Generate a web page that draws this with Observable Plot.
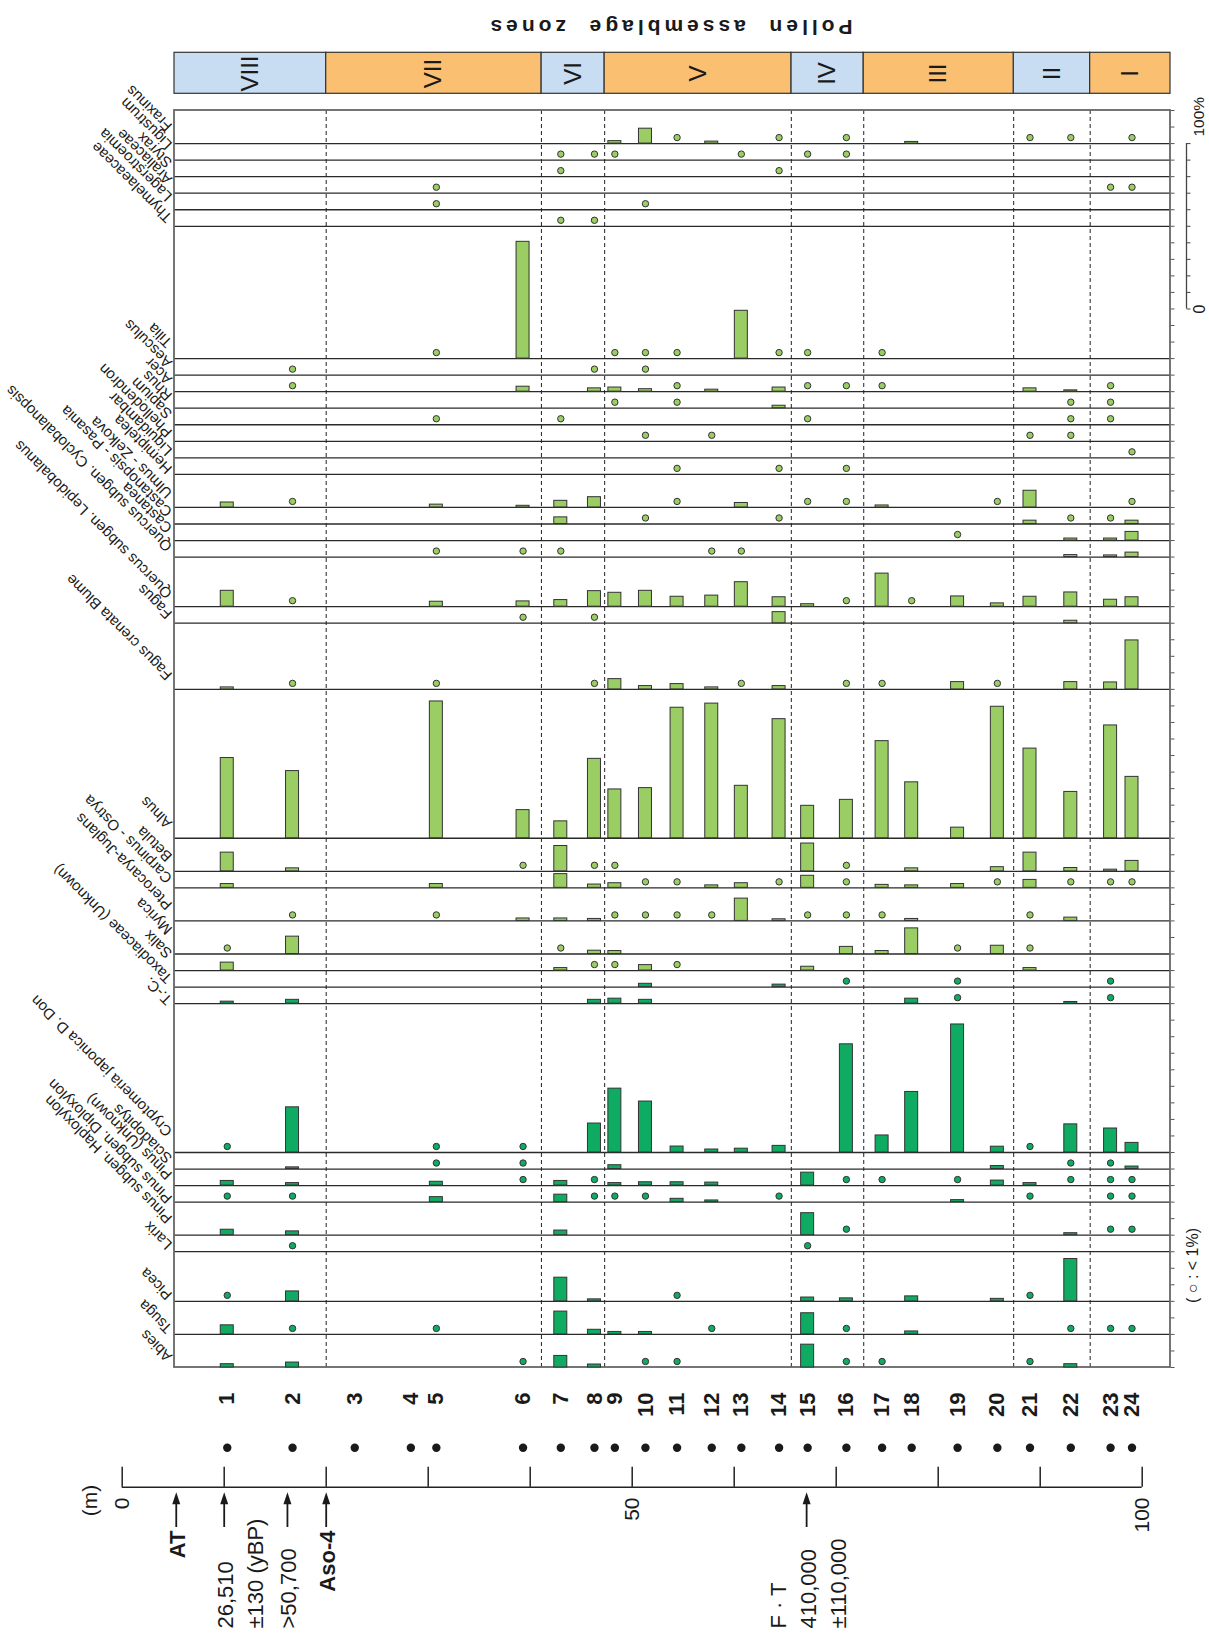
<!DOCTYPE html>
<html>
<head>
<meta charset="utf-8">
<script src="https://cdn.jsdelivr.net/npm/d3@7"></script>
<script src="https://cdn.jsdelivr.net/npm/@observablehq/plot@0.6"></script>
<style>
  html, body { margin: 0; padding: 0; background: #ffffff; }
  #chart svg { display: block; overflow: visible; }
</style>
</head>
<body>
<div id="chart"></div>
<script>
const _ = null, o = "+";   // "+" = present, < 1 %

// ---------- samples ----------
const sampleNumbers = [1,2,3,4,5,6,7,8,9,10,11,12,13,14,15,16,17,18,19,20,21,22,23,24];
const sampleDepths = [10.3, 16.7, 22.8, 28.3, 30.8, 39.3, 43.0, 46.3, 48.3, 51.3, 54.4, 57.8,
                      60.7, 64.4, 67.2, 71.0, 74.5, 77.4, 81.9, 85.8, 89.0, 93.0, 96.9, 99.0];

// ---------- pollen assemblage zones ----------
const zoneNames = ["VIII", "VII", "VI", "V", "IV", "III", "II", "I"];
const zoneBoundaries = [20.0, 41.1, 47.3, 65.6, 72.7, 87.4, 94.9];
const zoneTints = ["blue", "orange", "blue", "orange", "blue", "orange", "blue", "orange"];

// ---------- taxa (listed from the bottom row of the drawing upwards) ----------
const taxaNames = ["Abies", "Tsuga", "Picea", "Larix", "Pinus subgen. Haploxylon", "Pinus subgen. Diploxylon",
  "Pinus (Unknown)", "Sciadopitys", "Cryptomeria japonica D. Don", "T.-C.", "Taxodiaceae (Unknown)",
  "Salix", "Myrica", "Pterocarya-Juglans", "Carpinus - Ostrya", "Betula", "Alnus", "Fagus crenata Blume",
  "Fagus", "Quercus subgen. Lepidobalanus", "Quercus subgen. Cyclobalanopsis", "Castanea",
  "Castanopsis - Pasania", "Ulmus - Zelkova", "Hemiptelea", "Liquidambar", "Phellodendron", "Sapium",
  "Rhus", "Acer", "Aesculus", "Tilia", "Thymelaeaceae", "Lagerstroemia", "Araliaceae", "Styrax",
  "Ligustrum", "Fraxinus"];
// scale width of each taxon column (%)
const panelWidths = [20, 20, 30, 10, 20, 10, 10, 10, 90, 10, 10, 10, 20, 20, 10, 20, 90,
  40, 10, 30, 10, 10, 10, 20, 10, 10, 10, 10, 10, 10, 10, 80,
  10, 10, 10, 10, 10, 20];
const coniferCount = 11; // first 11 taxa drawn in dark green

// percentages for samples 1..24
const Abies        = [2, 3, _, _, _, o, 7, 1.8, _, o, o, _, _, _, 13.8, o, o, _, _, _, o, 2, _, _];
const Tsuga        = [5.5, o, _, _, o, _, 13.8, 2.8, 1.5, 1.5, _, o, _, _, 12.8, o, _, 1.8, _, _, _, o, o, o];
const Picea        = [o, 6, _, _, _, _, 14.3, 1.2, _, _, o, _, _, _, 2.3, 1.8, _, 3, _, 1.5, o, 25.6, _, _];
const Larix        = [_, o, _, _, _, _, _, _, _, _, _, _, _, _, o, _, _, _, _, _, _, _, _, _];
const Haploxylon   = [3.3, 2.3, _, _, _, _, 2.8, _, _, _, _, _, _, _, 13.3, o, _, _, _, _, _, 1.2, o, o];
const Diploxylon   = [o, o, _, _, 3, _, 4.5, o, o, o, 2, 1, _, o, _, _, _, _, 1.2, _, o, _, o, o];
const PinusUnknown = [2.8, 1.5, _, _, 2.3, o, 2.8, o, 1.5, 2, 2, 1.8, _, _, 7.8, o, o, _, o, 3, 1.5, o, o, o];
const Sciadopitys  = [_, 1, _, _, o, o, _, _, 2.3, _, _, _, _, _, _, _, _, _, _, 1.8, _, o, o, 1.5];
const Cryptomeria  = [o, 27.3, _, _, o, o, _, 17.5, 38.6, 30.8, 3.6, 1.8, 2.3, 4, _, 65.4, 10.3, 36.6, 77.4, 3.5, o, 17, 14.5, 5.8];
const TC           = [1.2, 2.3, _, _, _, _, _, 2.3, 3, 2.3, _, _, _, _, _, _, _, 3, o, _, _, 1, o, _];
const Taxodiaceae  = [_, _, _, _, _, _, _, _, _, 2, _, _, _, 1.5, _, o, _, _, o, _, _, _, o, _];
const Salix        = [4.8, _, _, _, _, _, 1.5, o, o, 3.3, o, _, _, _, 2.3, _, _, _, _, _, 1.5, _, _, _];
const Myrica       = [o, 10.5, _, _, _, _, o, 2, 1.8, _, _, _, _, _, _, 4.3, 1.8, 15.5, o, 5, o, _, _, _];
const Pterocarya   = [_, o, _, _, o, 1.5, 1.5, 1.2, o, o, o, o, 13.5, 1, o, o, o, 1.2, _, _, o, 2, _, _];
const Carpinus     = [2.3, _, _, _, 2.3, _, 8.3, 2, 2.8, o, o, 1.5, 2.8, o, 7.3, o, 1.8, 1.5, 2.3, o, 4.8, o, o, o];
const Betula       = [11.3, 1.8, _, _, _, o, 15.3, o, o, _, _, _, _, _, 16.8, o, _, 1.8, _, 2.5, 11.3, 2, 1, 6.3];
const Alnus        = [48.5, 40.6, _, _, 82.7, 17, 10.2, 48, 29.5, 30.3, 78.9, 81.4, 31.7, 72, 19.6, 23.2, 58.7, 33.8, 6.4, 79.5, 54.2, 28, 68.2, 37.1];
const FagusCrenata = [1.2, o, _, _, o, _, _, o, 6.2, 2, 3.2, 1.2, o, 2, _, o, o, _, 4.4, o, _, 4.4, 4.2, 29.6];
const Fagus        = [_, _, _, _, _, o, _, o, _, _, _, _, _, 6.7, _, _, _, _, _, _, _, 1.5, _, _];
const QLepido      = [9.6, o, _, _, 3, 3.2, 4, 9.4, 8.4, 9.6, 6, 6.7, 14.8, 5.7, 1.5, o, 20, o, 6.2, 2, 6, 8.6, 4.2, 5.7];
const QCyclo       = [_, _, _, _, o, o, o, _, _, _, _, o, o, _, _, _, _, _, _, _, _, 1.2, 1, 2.7];
const Castanea     = [_, _, _, _, _, _, _, _, _, _, _, _, _, _, _, _, _, _, o, _, _, 1.2, 1.2, 5.2];
const Castanopsis  = [_, _, _, _, _, _, 4, _, _, o, _, _, _, o, _, _, _, _, _, _, 2, o, o, 2];
const Ulmus        = [3, o, _, _, 1.7, 1, 4, 6.2, _, _, o, _, 2.7, _, o, o, 1.2, _, _, o, 10.1, _, _, o];
const Hemiptelea   = [_, _, _, _, _, _, _, _, _, _, o, _, _, o, _, o, _, _, _, _, _, _, _, _];
const Liquidambar  = [_, _, _, _, _, _, _, _, _, _, _, _, _, _, _, _, _, _, _, _, _, _, _, o];
const Phellodendron= [_, _, _, _, _, _, _, _, _, o, _, o, _, _, _, _, _, _, _, _, o, o, _, _];
const Sapium       = [_, _, _, _, o, _, o, _, _, _, _, _, _, _, o, _, _, _, _, _, _, o, o, _];
const Rhus         = [_, _, _, _, _, _, _, _, o, _, o, _, _, 1.5, _, _, _, _, _, _, _, o, o, _];
const Acer         = [_, o, _, _, _, 3, _, 2, 2.5, 1.5, o, 1.2, _, 2.5, o, o, o, _, _, _, 2, 0.8, o, _];
const Aesculus     = [_, o, _, _, _, _, _, o, _, o, _, _, _, _, _, _, _, _, _, _, _, _, _, _];
const Tilia        = [_, _, _, _, o, 70.6, _, _, o, o, o, _, 28.9, o, o, _, o, _, _, _, _, _, _, _];
const Thymelaeaceae= [_, _, _, _, _, _, o, o, _, _, _, _, _, _, _, _, _, _, _, _, _, _, _, _];
const Lagerstroemia= [_, _, _, _, o, _, _, _, _, o, _, _, _, _, _, _, _, _, _, _, _, _, _, _];
const Araliaceae   = [_, _, _, _, o, _, _, _, _, _, _, _, _, _, _, _, _, _, _, _, _, _, o, o];
const Styrax       = [_, _, _, _, _, _, o, _, _, _, _, _, _, o, _, _, _, _, _, _, _, _, _, _];
const Ligustrum    = [_, _, _, _, _, _, o, o, o, _, _, _, o, _, o, o, _, _, _, _, _, _, _, _];
const Fraxinus     = [_, _, _, _, _, _, _, _, 1.5, 9, o, 1.2, _, o, _, o, _, 1, _, _, o, o, _, o];

const taxaValues = [Abies, Tsuga, Picea, Larix, Haploxylon, Diploxylon, PinusUnknown, Sciadopitys,
  Cryptomeria, TC, Taxodiaceae, Salix, Myrica, Pterocarya, Carpinus, Betula, Alnus, FagusCrenata,
  Fagus, QLepido, QCyclo, Castanea, Castanopsis, Ulmus, Hemiptelea, Liquidambar,
  Phellodendron, Sapium, Rhus, Acer, Aesculus, Tilia, Thymelaeaceae, Lagerstroemia, Araliaceae,
  Styrax, Ligustrum, Fraxinus];

// ---------- depth axis and datings ----------
const depthTicks = [0, 10, 20, 30, 40, 50, 60, 70, 80, 90, 100];
const depthTickLabels = [0, 50, 100];
const datumDepths = [5.3, 10.0, 16.2, 20.0, 67.1];
const datumLines = [["AT"], ["26,510", "±130 (yBP)"], [">50,700"], ["Aso-4"], ["F · T", "410,000", "±110,000"]];
const datumFirstLine = [0, 0, 0, 0, -1];
const datumBold = [true, false, false, true, false];
const percentScaleTicks = [0, 10, 20, 30, 40, 50, 60, 70, 80, 90, 100];

// ---------- layout & styles ----------
const W = 1209, H = 1637;
const FONT = "'Liberation Sans', Arial, Helvetica, sans-serif";
const LIGHT = "#9acd63", DARK = "#10ab62", BLUE = "#c8ddf1", ORANGE = "#fbbf72", INK = "#1a1a1a";
const FRAME_TOP_PX = 110, FRAME_BOTTOM_PX = 1367, LEFT_PX = 174, RIGHT_PX = 1170;
const X0_PX = 121.7, PX_PER_M = 10.2;
// vertical nudge (px, + = down) of each taxon name relative to its column base, same order as taxaNames
const labelNudgePx = [-2.5, 2.3, 1.7, 1.3, -8.5, 4.6, -2.6, -2.3, -12.5, 4.4, -0.4, -8.8, -16, -7.9,
  -1.2, -6.3, -6.5, -5.9, -1, -4.9, -2.2, -4, -3.8, -5.7, 2.7, 1.2, -0.7, -2.7, -4.3, -4, -4.1,
  -7.8, -0.3, -5, -5.6, -5.6, -7.2, -9.1];
const TOTAL = d3.sum(panelWidths);
const PX_PER_PCT = (FRAME_BOTTOM_PX - FRAME_TOP_PX) / TOTAL;
const yAt = px => (FRAME_BOTTOM_PX - px) / PX_PER_PCT;
const xAt = px => (px - X0_PX) / PX_PER_M;
const X_LEFT = xAt(LEFT_PX), X_RIGHT = xAt(RIGHT_PX);
const M_PER_PX = 1 / PX_PER_M;

// ---------- derived tables ----------
let acc = 0;
const panels = taxaNames.map((name, i) => {
  const p = {name, index: i, base: acc, width: panelWidths[i], dark: i < coniferCount, values: taxaValues[i]};
  acc += panelWidths[i];
  return p;
});
const records = panels.flatMap(p => p.values
  .map((v, j) => ({panel: p, depth: sampleDepths[j], value: v}))
  .filter(r => r.value !== null));
const bars = records.filter(r => typeof r.value === "number");
const traces = records.filter(r => r.value === o);
const separators = panels.filter(p => p.index > 0).map(p => p.base);
const rightTicks = d3.range(0, TOTAL + 1, 10);
const zoneLimits = [X_LEFT, ...zoneBoundaries, X_RIGHT];
const zones = zoneNames.map((name, i) => ({name, x1: zoneLimits[i], x2: zoneLimits[i + 1], tint: zoneTints[i]}));
const samples = sampleNumbers.map((n, i) => ({n, depth: sampleDepths[i]}));
const datumText = datumDepths.flatMap((d, i) => datumLines[i].map((t, k) => ({
  text: t, bold: datumBold[i],
  x: d + (2 + 30 * (k + datumFirstLine[i])) * M_PER_PX
})));
const fraxinusBase = panels[panels.length - 1].base;
const pctBarBase = fraxinusBase - 100;
const arrowHead = {draw(ctx) { ctx.moveTo(0, 0); ctx.lineTo(4, 12); ctx.lineTo(-4, 12); ctx.closePath(); }};

const chart = Plot.plot({
  width: W, height: H,
  marginLeft: X0_PX, marginRight: W - RIGHT_PX, marginTop: FRAME_TOP_PX, marginBottom: H - FRAME_BOTTOM_PX,
  x: {domain: [0, X_RIGHT], axis: null},
  y: {domain: [0, TOTAL], axis: null},
  style: {fontFamily: FONT, background: "#ffffff", overflow: "visible"},
  marks: [
    // title
    Plot.text(["Pollen  assemblage  zones"], {x: xAt(669), y: yAt(26), text: d => d, rotate: 180,
      fontSize: 21, fontWeight: "bold", fill: INK}),
    // zone band
    Plot.rect(zones.filter(z => z.tint === "blue"), {x1: "x1", x2: "x2", y1: yAt(93.3), y2: yAt(52.3), fill: BLUE, stroke: "#333", strokeWidth: 1.2}),
    Plot.rect(zones.filter(z => z.tint === "orange"), {x1: "x1", x2: "x2", y1: yAt(93.3), y2: yAt(52.3), fill: ORANGE, stroke: "#333", strokeWidth: 1.2}),
    Plot.text(zones, {x: z => (z.x1 + z.x2) / 2, y: yAt(73), text: "name", rotate: -90, fontSize: 24, fill: INK}),
    // panel separators & zone dashes
    Plot.ruleY(separators, {x1: X_LEFT, x2: X_RIGHT, stroke: "#2a2a2a", strokeWidth: 1.3}),
    Plot.ruleX(zoneBoundaries, {y1: 0, y2: TOTAL, stroke: "#222", strokeWidth: 1, strokeDasharray: "4,3"}),
    Plot.link(rightTicks, {x1: X_RIGHT, x2: X_RIGHT + 4 * M_PER_PX, y1: d => d, y2: d => d, stroke: "#555", strokeWidth: 1}),
    Plot.rect([0], {x1: X_LEFT, x2: X_RIGHT, y1: 0, y2: TOTAL, fill: "none", stroke: "#666", strokeWidth: 1.8}),
    // bars
    Plot.rect(bars.filter(d => !d.panel.dark), {x1: "depth", x2: "depth", y1: d => d.panel.base, y2: d => d.panel.base + d.value,
      insetLeft: -6.5, insetRight: -6.5, fill: LIGHT, stroke: "#333", strokeWidth: 1}),
    Plot.rect(bars.filter(d => d.panel.dark), {x1: "depth", x2: "depth", y1: d => d.panel.base, y2: d => d.panel.base + d.value,
      insetLeft: -6.5, insetRight: -6.5, fill: DARK, stroke: "#333", strokeWidth: 1}),
    // traces (< 1%)
    Plot.dot(traces.filter(d => !d.panel.dark), {x: "depth", y: d => d.panel.base, dy: -6, r: 3.2, fill: LIGHT, stroke: "#333", strokeWidth: 1}),
    Plot.dot(traces.filter(d => d.panel.dark), {x: "depth", y: d => d.panel.base, dy: -6, r: 3.2, fill: DARK, stroke: "#333", strokeWidth: 1}),
    // taxon labels
    Plot.text(panels, {x: X_LEFT, y: p => p.base + (6 - labelNudgePx[p.index]) / PX_PER_PCT, text: "name",
      rotate: 225, textAnchor: "start", dx: -5, fontSize: 15, fill: INK}),
    // 0-100 % scale
    Plot.ruleX([xAt(1186)], {y1: pctBarBase, y2: pctBarBase + 100, stroke: "#444", strokeWidth: 1.3}),
    Plot.link(percentScaleTicks, {x1: xAt(1186), x2: xAt(1190), y1: d => pctBarBase + d, y2: d => pctBarBase + d, stroke: "#444"}),
    Plot.text([0], {x: xAt(1199), y: pctBarBase, text: d => String(d), rotate: -90, fontSize: 16, fill: INK}),
    Plot.text([100], {x: xAt(1199), y: pctBarBase + 100, dy: -7, text: d => d + "%", rotate: -90, textAnchor: "start", fontSize: 15.5, fill: INK}),
    Plot.text(["( ○ : < 1%)"], {x: xAt(1192), y: yAt(1265), text: d => d, rotate: -90, fontSize: 16, fill: INK}),
    // sample numbers and positions
    Plot.text(samples, {x: "depth", y: yAt(1392), text: d => String(d.n), rotate: -90, textAnchor: "end",
      fontSize: 22, fontWeight: "bold", fill: INK}),
    Plot.dot(samples, {x: "depth", y: yAt(1447.3), r: 4.2, fill: INK}),
    // depth axis
    Plot.ruleY([yAt(1486.7)], {x1: 0, x2: 100, stroke: "#222", strokeWidth: 1.5}),
    Plot.ruleX(depthTicks, {y1: yAt(1486.7), y2: yAt(1466.7), stroke: "#222", strokeWidth: 1.5}),
    Plot.text(depthTickLabels, {x: d => d, y: yAt(1497), text: d => String(d), rotate: -90, textAnchor: "end", fontSize: 21, fill: INK}),
    Plot.text(["(m)"], {x: xAt(90), y: yAt(1500), text: d => d, rotate: -90, fontSize: 21, fill: INK}),
    // datum arrows and labels
    Plot.ruleX(datumDepths, {y1: yAt(1527), y2: yAt(1500), stroke: INK, strokeWidth: 1.8}),
    Plot.dot(datumDepths, {x: d => d, y: yAt(1491.7), symbol: arrowHead, r: 5, fill: INK, stroke: "none"}),
    Plot.text(datumText.filter(d => d.bold), {x: "x", y: yAt(1530), text: "text", rotate: -90, textAnchor: "end",
      fontSize: 22, fontWeight: "bold", fill: INK}),
    Plot.text(datumText.filter(d => !d.bold), {x: "x", y: yAt(1628), text: "text", rotate: -90, textAnchor: "start",
      fontSize: 22, fill: INK})
  ]
});

d3.select(chart).selectAll("text")
  .filter(function () { return this.textContent.startsWith("Pollen"); })
  .attr("letter-spacing", "4px")
  .style("white-space", "pre");

document.getElementById("chart").appendChild(chart);
</script>
</body>
</html>
